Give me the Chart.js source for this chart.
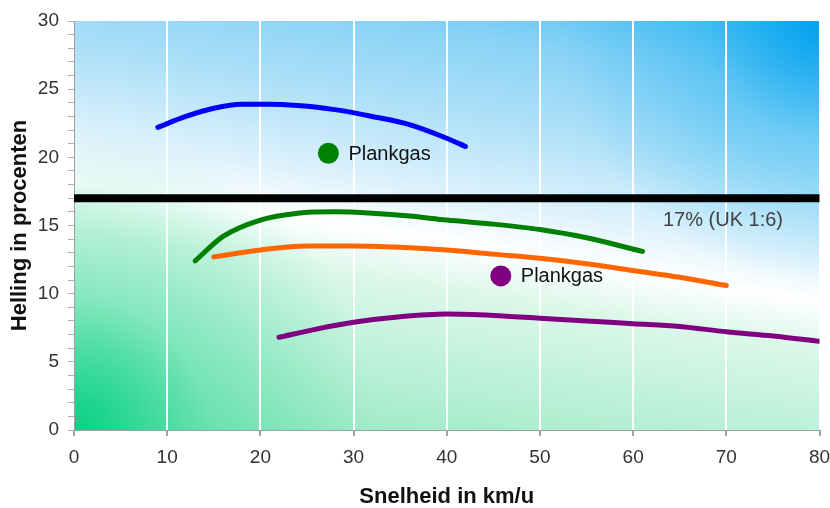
<!DOCTYPE html>
<html>
<head>
<meta charset="utf-8">
<script src="https://cdn.jsdelivr.net/npm/chart.js@4.4.1/dist/chart.umd.min.js"></script>
<style>
  html, body { margin: 0; padding: 0; background: #fff; }
  #wrap { width: 830px; height: 508px; }
</style>
</head>
<body>
<div id="wrap"><canvas id="HellingChart"></canvas></div>
<script>
// speed (km/u) and slope (%)
const blueX = [9, 12, 15, 18, 21, 24, 28, 32, 36, 40, 42];
const blueY = [22.2, 23.0, 23.6, 23.9, 23.9, 23.8, 23.5, 23.0, 22.4, 21.4, 20.8];

const greenX = [13, 16, 20, 24, 28, 32, 36, 40, 45, 50, 55, 61];
const greenY = [12.4, 14.2, 15.4, 15.9, 16.0, 15.9, 15.7, 15.4, 15.1, 14.7, 14.1, 13.1];

const orangeX = [15, 20, 25, 30, 35, 40, 45, 50, 55, 60, 65, 70];
const orangeY = [12.7, 13.2, 13.5, 13.5, 13.4, 13.2, 12.9, 12.6, 12.2, 11.7, 11.2, 10.6];

const purpleX = [22, 26, 30, 35, 40, 45, 50, 55, 60, 65, 70, 75, 80];
const purpleY = [6.8, 7.4, 7.9, 8.3, 8.5, 8.4, 8.2, 8.0, 7.8, 7.6, 7.2, 6.9, 6.5];

// 17% limit line
const limitX = [0, 80];
const limitY = [17, 17];

// Plankgas markers
const plankX = [27.3, 45.8];
const plankY = [20.3, 11.3];
const plankLabels = ["Plankgas", "Plankgas"];

const limitLabel = "17% (UK 1:6)";
const limitLabelPos = [63.2, 15.4];

const xTicks = [0, 10, 20, 30, 40, 50, 60, 70, 80];

function toPoints(xs, ys) {
  return xs.map(function (x, i) { return { x: x, y: ys[i] }; });
}

function curve(xs, ys, color) {
  return {
    data: toPoints(xs, ys),
    showLine: true,
    borderColor: color,
    backgroundColor: color,
    borderWidth: 5,
    borderCapStyle: 'round',
    cubicInterpolationMode: 'monotone',
    pointRadius: 0,
    pointHoverRadius: 0
  };
}

// gradient background behind the plot area
const backgroundPlugin = {
  id: 'bg',
  beforeDraw(chart) {
    const a = chart.chartArea;
    const ctx = chart.ctx;
    const w = a.right - a.left, h = a.bottom - a.top;
    ctx.save();
    // tilted base gradient: green bottom -> white band -> blue top
    let g = ctx.createLinearGradient(a.left, a.bottom, a.left + 0.159 * 522, a.bottom - 0.987 * 522);
    g.addColorStop(0, '#8ee6be');
    g.addColorStop(0.2, '#b8f0d6');
    g.addColorStop(0.38, '#dcf7ea');
    g.addColorStop(0.47, '#ffffff');
    g.addColorStop(0.56, '#def2fc');
    g.addColorStop(0.72, '#ade0f8');
    g.addColorStop(0.87, '#88d2f6');
    g.addColorStop(1, '#4ec0f2');
    ctx.fillStyle = g;
    ctx.fillRect(a.left, a.top, w, h);
    // deep green in the bottom-left corner
    let r1 = ctx.createRadialGradient(a.left, a.bottom, 0, a.left, a.bottom, 300);
    r1.addColorStop(0, 'rgba(0,208,128,0.95)');
    r1.addColorStop(0.45, 'rgba(0,208,128,0.3)');
    r1.addColorStop(1, 'rgba(0,208,128,0)');
    ctx.fillStyle = r1;
    ctx.fillRect(a.left, a.top, w, h);
    // deep blue in the top-right corner
    let r2 = ctx.createRadialGradient(a.right, a.top, 0, a.right, a.top, 260);
    r2.addColorStop(0, 'rgba(0,158,238,0.95)');
    r2.addColorStop(0.45, 'rgba(0,168,240,0.3)');
    r2.addColorStop(1, 'rgba(0,168,240,0)');
    ctx.fillStyle = r2;
    ctx.fillRect(a.left, a.top, w, h);
    ctx.restore();
  }
};

// text labels next to the markers and under the 17% line
const labelPlugin = {
  id: 'labels',
  afterDatasetsDraw(chart) {
    const ctx = chart.ctx;
    const xs = chart.scales.x, ys = chart.scales.y;
    ctx.save();
    ctx.font = '20px "Liberation Sans", Arial, sans-serif';
    ctx.textBaseline = 'middle';
    ctx.textAlign = 'left';
    ctx.fillStyle = '#111';
    plankLabels.forEach(function (t, i) {
      ctx.fillText(t, xs.getPixelForValue(plankX[i]) + 20, ys.getPixelForValue(plankY[i]) + 1);
    });
    ctx.fillStyle = '#404040';
    ctx.fillText(limitLabel, xs.getPixelForValue(limitLabelPos[0]), ys.getPixelForValue(limitLabelPos[1]));
    ctx.restore();
  }
};

const ctx = document.getElementById('HellingChart').getContext('2d');
const chart = new Chart(ctx, {
  type: 'scatter',
  data: {
    datasets: [
      curve(blueX, blueY, '#0000ff'),
      curve(greenX, greenY, '#008000'),
      curve(orangeX, orangeY, '#ff6600'),
      curve(purpleX, purpleY, '#800080'),
      {
        data: toPoints(limitX, limitY),
        showLine: true,
        borderColor: '#000000',
        borderWidth: 8,
        borderCapStyle: 'round',
        pointRadius: 0,
        pointHoverRadius: 0
      },
      {
        data: toPoints(plankX, plankY),
        showLine: false,
        pointRadius: 10.5,
        pointBorderWidth: 0,
        pointBackgroundColor: ['#008000', '#800080'],
        pointBorderColor: ['#008000', '#800080']
      }
    ]
  },
  options: {
    responsive: true,
    maintainAspectRatio: false,
    animation: false,
    layout: { padding: { top: 21, right: 10, left: 0, bottom: 0 } },
    plugins: {
      legend: { display: false },
      tooltip: { enabled: false }
    },
    scales: {
      x: {
        type: 'linear',
        min: 0,
        max: 80,
        afterBuildTicks(scale) {
          scale.ticks = xTicks.map(function (v) { return { value: v }; });
        },
        afterFit(scale) {
          scale.height = 78;
          scale.paddingLeft = 0;
          scale.paddingRight = 0;
        },
        grid: {
          color: '#ffffff',
          lineWidth: 2,
          tickColor: '#a0a0a0',
          tickLength: 6
        },
        border: { color: '#a0a0a0', width: 1 },
        ticks: {
          color: '#333',
          padding: 10,
          maxRotation: 0,
          font: { family: '"Liberation Sans", Arial, sans-serif', size: 19 }
        },
        title: {
          display: true,
          text: 'Snelheid in km/u',
          color: '#111',
          padding: { top: 0, bottom: -2 },
          font: { family: '"Liberation Sans", Arial, sans-serif', size: 22, weight: 'bold' }
        }
      },
      y: {
        type: 'linear',
        min: 0,
        max: 30,
        ticks: {
          stepSize: 1,
          autoSkip: false,
          color: '#333',
          padding: 9,
          font: { family: '"Liberation Sans", Arial, sans-serif', size: 19 },
          callback: function (v) { return v % 5 === 0 ? String(v) : ''; }
        },
        afterFit(scale) { scale.width = 74; },
        grid: {
          drawOnChartArea: false,
          tickColor: '#b0b0b0',
          tickLength: 6
        },
        border: { color: '#a0a0a0', width: 1 },
        title: {
          display: true,
          text: 'Helling in procenten',
          color: '#111',
          padding: { top: 7, bottom: 0 },
          font: { family: '"Liberation Sans", Arial, sans-serif', size: 22, weight: 'bold' }
        }
      }
    }
  },
  plugins: [backgroundPlugin, labelPlugin]
});
</script>
</body>
</html>
